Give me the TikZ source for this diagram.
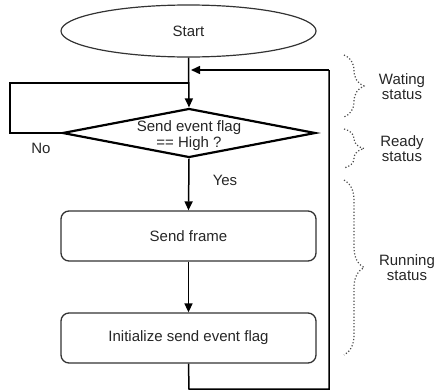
\documentclass[tikz,border=0pt]{standalone}
\usepackage{fontspec}
\setmainfont{Liberation Sans}
\usetikzlibrary{shapes.geometric,arrows.meta,decorations.pathreplacing}
\begin{document}
\begin{tikzpicture}[x=1pt,y=-1pt,
  txt/.style={font=\fontsize{15}{18}\selectfont, text=black!85},
  flow/.style={line width=1.5pt, draw=black},
  arr/.style={flow, -{Triangle[length=9pt,width=8pt]}},
  procbox/.style={draw=black!80, line width=1.3pt, rounded corners=8pt, minimum width=255pt, minimum height=50pt, inner sep=0pt, txt},
  stbrace/.style={decorate, decoration={brace, amplitude=20pt}, draw=black!70, dotted, line width=1.2pt},
  side/.style={txt, align=center}
]
\useasboundingbox (0,0) rectangle (438,391);
\node[ellipse, draw=black!80, line width=1.2pt, minimum width=255pt, minimum height=52pt, inner sep=0pt, txt] (start) at (188.5,31) {Start};
\node[diamond, draw=black, line width=2.2pt, minimum width=253pt, minimum height=49pt, inner sep=0pt] (dec) at (189,133) {};
\node[txt, align=center, inner sep=0pt] (dect) at (189,136) {Send event flag\\[-2pt]== High ?};
\node[procbox] (send) at (188.5,236) {Send frame};
\node[procbox] (init) at (188.5,338) {Initialize send event flag};

\coordinate (j1) at (189,83);
\coordinate (j2) at (191,70);
\coordinate (nl1) at (10,133);
\coordinate (nl2) at (10,83);
\coordinate (rb1) at (189,389);
\coordinate (rb2) at (329,389);
\coordinate (rb3) at (329,70);

\draw[arr] (start.south) -- (dec.north);
\draw[flow] (dec.west) -- (nl1) -- (nl2) -- (j1);
\draw[arr] (dec.south) -- (send.north);
\draw[arr] (send.south) -- (init.north);
\draw[flow] (init.south) -- (rb1) -- (rb2) -- (rb3);
\draw[arr] (rb3) -- (j2);

\node[txt] (no) at (41,148) {No};
\node[txt] (yes) at (225,180) {Yes};

\coordinate (b1a) at (344,55); \coordinate (b1b) at (344,117);
\coordinate (b2a) at (344,129); \coordinate (b2b) at (344,168);
\coordinate (b3a) at (344,180); \coordinate (b3b) at (344,355);
\draw[stbrace] (b1a) -- (b1b);
\draw[stbrace] (b2a) -- (b2b);
\draw[stbrace] (b3a) -- (b3b);

\node[side] (wait) at (402,87) {Wating\\[-3pt]status};
\node[side] (ready) at (402,149) {Ready\\[-3pt]status};
\node[side] (run) at (407,268) {Running\\[-3pt]status};
\end{tikzpicture}
\end{document}
